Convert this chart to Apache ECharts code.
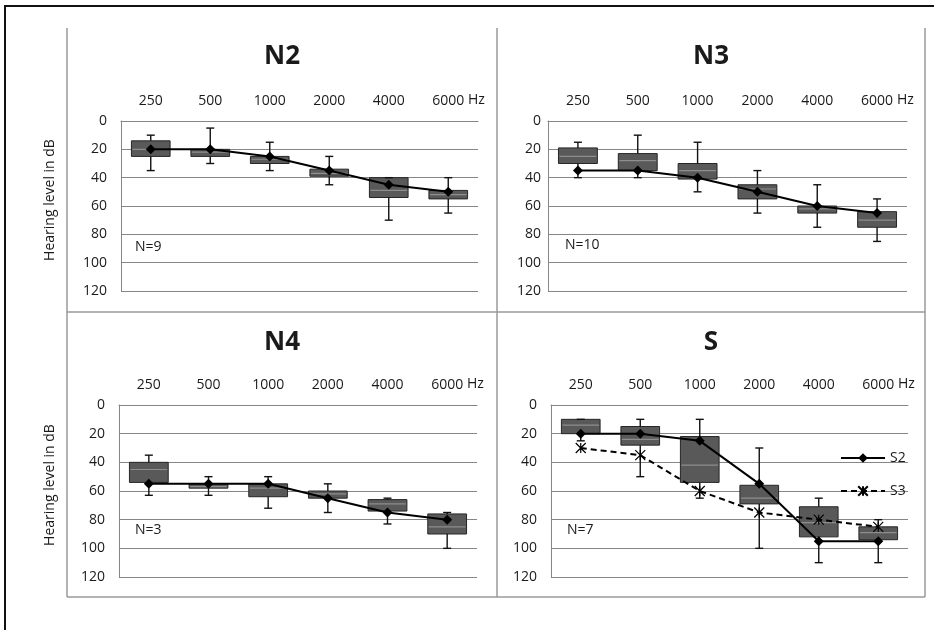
<!DOCTYPE html>
<html>
<head>
<meta charset="utf-8">
<script src="https://cdn.jsdelivr.net/npm/echarts@6/dist/echarts.min.js"></script>
<style>
  html, body { margin: 0; padding: 0; background: #fff; }
  #chart { width: 934px; height: 630px; }
</style>
</head>
<body>
<div id="chart"></div>
<script>
// frequencies on the top axis
const freqs = ['250', '500', '1000', '2000', '4000', '6000'];

// each box: [whisker top, box top, median, box bottom, whisker bottom] in dB
const n2Box = [[10, 14, 20, 25, 35], [5, 20, 22, 25, 30], [15, 25, 27, 30, 35], [25, 34, 37, 39, 45], [40, 40, 49, 54, 70], [40, 49, 52, 55, 65]];
const n2Mean = [20, 20, 25, 35, 45, 50];

const n3Box = [[15, 19, 25, 30, 40], [10, 23, 28, 35, 40], [15, 30, 35, 41, 50], [35, 45, 48, 55, 65], [45, 60, 62, 65, 75], [55, 64, 70, 75, 85]];
const n3Mean = [35, 35, 40, 50, 60, 65];

const n4Box = [[35, 40, 45, 54, 63], [50, 55, 57, 58, 63], [50, 55, 58, 64, 72], [55, 60, 62, 65, 75], [65, 66, 69, 74, 83], [75, 76, 85, 90, 100]];
const n4Mean = [55, 55, 55, 65, 75, 80];

const sBox = [[10, 10, 14, 20, 25], [10, 15, 24, 28, 50], [10, 22, 42, 54, 65], [30, 56, 65, 69, 100], [65, 71, 82, 92, 110], [80, 85, 89, 94, 110]];
const s2Mean = [20, 20, 25, 55, 95, 95];
const s3Mean = [30, 35, 60, 75, 80, 85];

const panelNames = ['N2', 'N3', 'N4', 'S'];
const panelCounts = ['N=9', 'N=10', 'N=3', 'N=7'];

const font = 'Open Sans';
const ink = '#1a1a1a';
const gridGray = '#868686';

const grids = [
  { left: 121, top: 121, width: 357, height: 170 },
  { left: 548, top: 121, width: 359, height: 170 },
  { left: 119, top: 405, width: 358, height: 172 },
  { left: 551, top: 405, width: 357, height: 172 }
];

function drawBox(params, api) {
  const i = api.value(0);
  const top = api.coord([i, api.value(1)]);
  const q1 = api.coord([i, api.value(2)]);
  const med = api.coord([i, api.value(3)]);
  const q3 = api.coord([i, api.value(4)]);
  const bot = api.coord([i, api.value(5)]);
  const bw = api.size([1, 0])[0] * 0.65;
  const x = top[0];
  const cap = 4;
  const whisk = { stroke: '#111', lineWidth: 1.4 };
  return {
    type: 'group',
    children: [
      { type: 'rect', shape: { x: x - bw / 2, y: q1[1], width: bw, height: q3[1] - q1[1] },
        style: { fill: '#595959', stroke: '#262626', lineWidth: 1 } },
      { type: 'line', shape: { x1: x - bw / 2 + 1, y1: med[1], x2: x + bw / 2 - 1, y2: med[1] },
        style: { stroke: '#8e8e8e', lineWidth: 1.2 } },
      { type: 'line', shape: { x1: x, y1: top[1], x2: x, y2: q1[1] }, style: whisk },
      { type: 'line', shape: { x1: x, y1: q3[1], x2: x, y2: bot[1] }, style: whisk },
      { type: 'line', shape: { x1: x - cap, y1: top[1], x2: x + cap, y2: top[1] }, style: whisk },
      { type: 'line', shape: { x1: x - cap, y1: bot[1], x2: x + cap, y2: bot[1] }, style: whisk }
    ]
  };
}

const boxes = [n2Box, n3Box, n4Box, sBox];
const xAxes = grids.map((g, k) => ({
  gridIndex: k, type: 'category', position: 'top', data: freqs, boundaryGap: true,
  axisLine: { onZero: false, lineStyle: { color: gridGray, width: 1 } },
  axisTick: { inside: true, length: 5, lineStyle: { color: '#555' } },
  axisLabel: { margin: 13, fontSize: 14, color: ink, fontFamily: font },
  splitLine: { show: false }
}));
const yAxes = grids.map((g, k) => ({
  gridIndex: k, type: 'value', inverse: true, min: 0, max: 120, interval: 20,
  axisLine: { show: true, lineStyle: { color: gridGray, width: 1 } },
  axisTick: { show: false },
  axisLabel: { margin: k === 1 ? 7 : 14, fontSize: 14, color: ink, fontFamily: font },
  splitLine: { show: true, lineStyle: { color: gridGray, width: 1 } }
}));

const series = [];
boxes.forEach((b, k) => {
  series.push({
    type: 'custom', xAxisIndex: k, yAxisIndex: k, z: 2,
    renderItem: drawBox,
    encode: { x: 0, y: [1, 2, 3, 4, 5] },
    data: b.map((v, i) => [i].concat(v))
  });
});
const meanLine = (name, k, data, dashed, symbol) => ({
  name: name, type: 'line', xAxisIndex: k, yAxisIndex: k, z: 5, data: data,
  symbol: symbol, symbolSize: 10,
  itemStyle: { color: '#000', borderColor: '#000', borderWidth: symbol === 'diamond' ? 0 : 1.2 },
  lineStyle: { color: '#000', width: 2, type: dashed ? [6, 4] : 'solid' }
});
series.push(meanLine('N2', 0, n2Mean, false, 'diamond'));
series.push(meanLine('N3', 1, n3Mean, false, 'diamond'));
series.push(meanLine('N4', 2, n4Mean, false, 'diamond'));
series.push(meanLine('S2', 3, s2Mean, false, 'diamond'));
series.push(meanLine('S3', 3, s3Mean, true, 'path://M0,0L10,10M10,0L0,10M5,0L5,10'));

const txt = (text, x, y, size, extra) => ({
  type: 'text', x: x, y: y, silent: true,
  style: Object.assign({
    text: text, fill: ink, font: size + 'px "' + font + '"',
    align: 'left', textAlign: 'left', verticalAlign: 'middle', textVerticalAlign: 'middle'
  }, extra || {})
});
const gline = (x1, y1, x2, y2) => ({
  type: 'line', silent: true, shape: { x1: x1, y1: y1, x2: x2, y2: y2 },
  style: { stroke: '#9a9a9a', lineWidth: 1.5 }
});

const titlePos = [[282, 57], [711, 57], [282, 343], [711, 343]];
const countPos = [[135, 247], [565, 245], [135, 530], [567, 530]];
const graphics = [
  { type: 'rect', silent: true, shape: { x: 5, y: 6, width: 960, height: 660 },
    style: { fill: 'none', stroke: '#111', lineWidth: 2 } },
  gline(67, 28, 67, 597), gline(497, 28, 497, 597), gline(925, 28, 925, 597),
  gline(67, 312, 925, 312), gline(67, 597, 925, 597)
];
panelNames.forEach((t, k) => {
  graphics.push(txt(t, titlePos[k][0], titlePos[k][1], 26,
    { font: 'bold 26px "' + font + '"', align: 'center', textAlign: 'center' }));
  graphics.push(txt(panelCounts[k], countPos[k][0], countPos[k][1], 14));
  const g = grids[k];
  graphics.push(txt('Hz', g.left + g.width - 10, 100 + (k > 1 ? 284 : 0), 14));
});
['Hearing level in dB', 'Hearing level in dB'].forEach((t, k) => {
  graphics.push(Object.assign(txt(t, 50, k ? 485 : 200, 14,
    { align: 'center', textAlign: 'center' }), { rotation: Math.PI / 2 }));
});

const chart = echarts.init(document.getElementById('chart'));
chart.setOption({
  animation: false,
  backgroundColor: '#fff',
  grid: grids,
  xAxis: xAxes,
  yAxis: yAxes,
  legend: {
    data: ['S2', 'S3'], orient: 'vertical', left: 835, top: 446,
    itemWidth: 44, itemHeight: 12, itemGap: 19,
    textStyle: { fontSize: 14, color: ink, fontFamily: font }
  },
  graphic: graphics,
  series: series
});
</script>
</body>
</html>
